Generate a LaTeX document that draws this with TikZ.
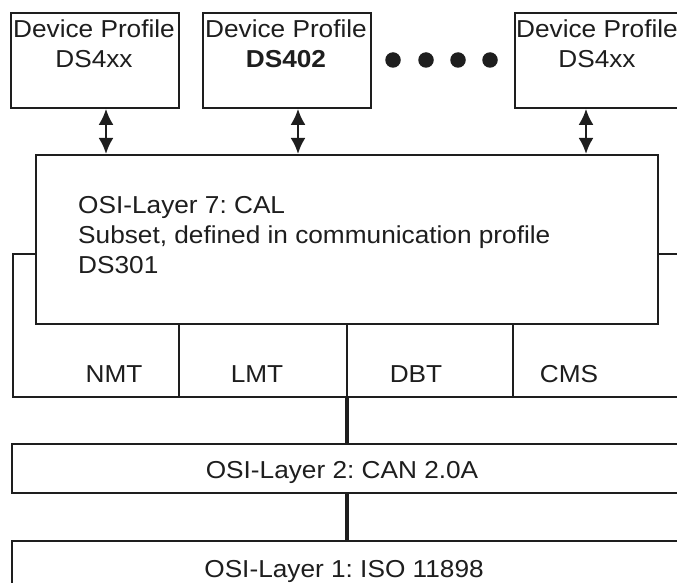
\documentclass[tikz,border=0pt]{standalone}
\usepackage{fontspec}
\setmainfont{Liberation Sans}[FakeStretch=1.07]
\frenchspacing
\usetikzlibrary{arrows.meta}
\definecolor{ink}{HTML}{1E1E1E}
\tikzset{
  box/.style={draw=ink, line width=1.8pt, fill=white, rectangle, inner sep=0pt, anchor=north west},
  txt/.style={inner sep=0pt, text=ink, font=\frenchspacing\fontsize{24.5pt}{30pt}\selectfont},
  biarrow/.style={draw=ink, line width=2.6pt, {Latex[length=16pt,width=15pt]}-{Latex[length=16pt,width=15pt]}},
  bus/.style={draw=ink, line width=4pt},
  divider/.style={draw=ink, line width=1.8pt},
  dot/.style={circle, fill=ink, inner sep=0pt, minimum size=15.5pt}
}
\begin{document}
\begin{tikzpicture}[x=1pt,y=-1pt]
\useasboundingbox (0,0) rectangle (677,583);
\clip (0,0) rectangle (677,583);
\fill[white] (0,0) rectangle (677,583);

% device profile boxes
\node[box, minimum width=168pt, minimum height=95pt] (b1) at (10,12) {};
\node[box, minimum width=168pt, minimum height=95pt] (b2) at (202,12) {};
\node[box, minimum width=168pt, minimum height=95pt] (b3) at (514,12) {};
\node[txt, anchor=base] (b1t1) at (94,38) {Device Profile};
\node[txt, anchor=base] (b1t2) at (94,68) {DS4xx};
\node[txt, anchor=base] (b2t1) at (286,38) {Device Profile};
\node[txt, anchor=base] (b2t2) at (286,68) {\bfseries DS402};
\node[txt, anchor=base] (b3t1) at (597,38) {Device Profile};
\node[txt, anchor=base] (b3t2) at (597,68) {DS4xx};

% dots
\node[dot] (d1) at (393,60) {};
\node[dot] (d2) at (426,60) {};
\node[dot] (d3) at (458,60) {};
\node[dot] (d4) at (490,60) {};

% services box (behind layer 7)
\node[box, minimum width=700pt, minimum height=143pt] (srv) at (12,253) {};
% layer 7 box
\node[box, minimum width=622pt, minimum height=169pt] (l7) at (35,154) {};
\node[txt, anchor=base west] (l7a) at (78,213) {OSI-Layer 7: CAL};
\node[txt, anchor=base west] (l7b) at (78,243) {Subset, defined in communication profile};
\node[txt, anchor=base west] (l7c) at (78,273) {DS301};

% arrows
\draw[biarrow] (b1.south -| 106,0) -- (l7.north -| 106,0);
\draw[biarrow] (b2.south -| 298,0) -- (l7.north -| 298,0);
\draw[biarrow] (b3.south -| 586,0) -- (l7.north -| 586,0);

% service dividers
\draw[divider] (l7.south -| 179,0) -- (srv.south -| 179,0);
\draw[divider] (l7.south -| 347,0) -- (srv.south -| 347,0);
\draw[divider] (l7.south -| 513,0) -- (srv.south -| 513,0);
\node[txt, anchor=base] (nmt) at (114,382) {NMT};
\node[txt, anchor=base] (lmt) at (257,382) {LMT};
\node[txt, anchor=base] (dbt) at (416,382) {DBT};
\node[txt, anchor=base] (cms) at (569,382) {CMS};

% layer 2 and layer 1
\node[box, minimum width=700pt, minimum height=49pt] (l2) at (11,443) {};
\node[txt, anchor=base] (l2t) at (342,478) {OSI-Layer 2: CAN 2.0A};
\node[box, minimum width=700pt, minimum height=80pt] (l1) at (11,540) {};
\node[txt, anchor=base] (l1t) at (344,577) {OSI-Layer 1: ISO 11898};

% bus connectors
\draw[bus] (srv.south -| 347,0) -- (l2.north -| 347,0);
\draw[bus] (l2.south -| 347,0) -- (l1.north -| 347,0);
\end{tikzpicture}
\end{document}
